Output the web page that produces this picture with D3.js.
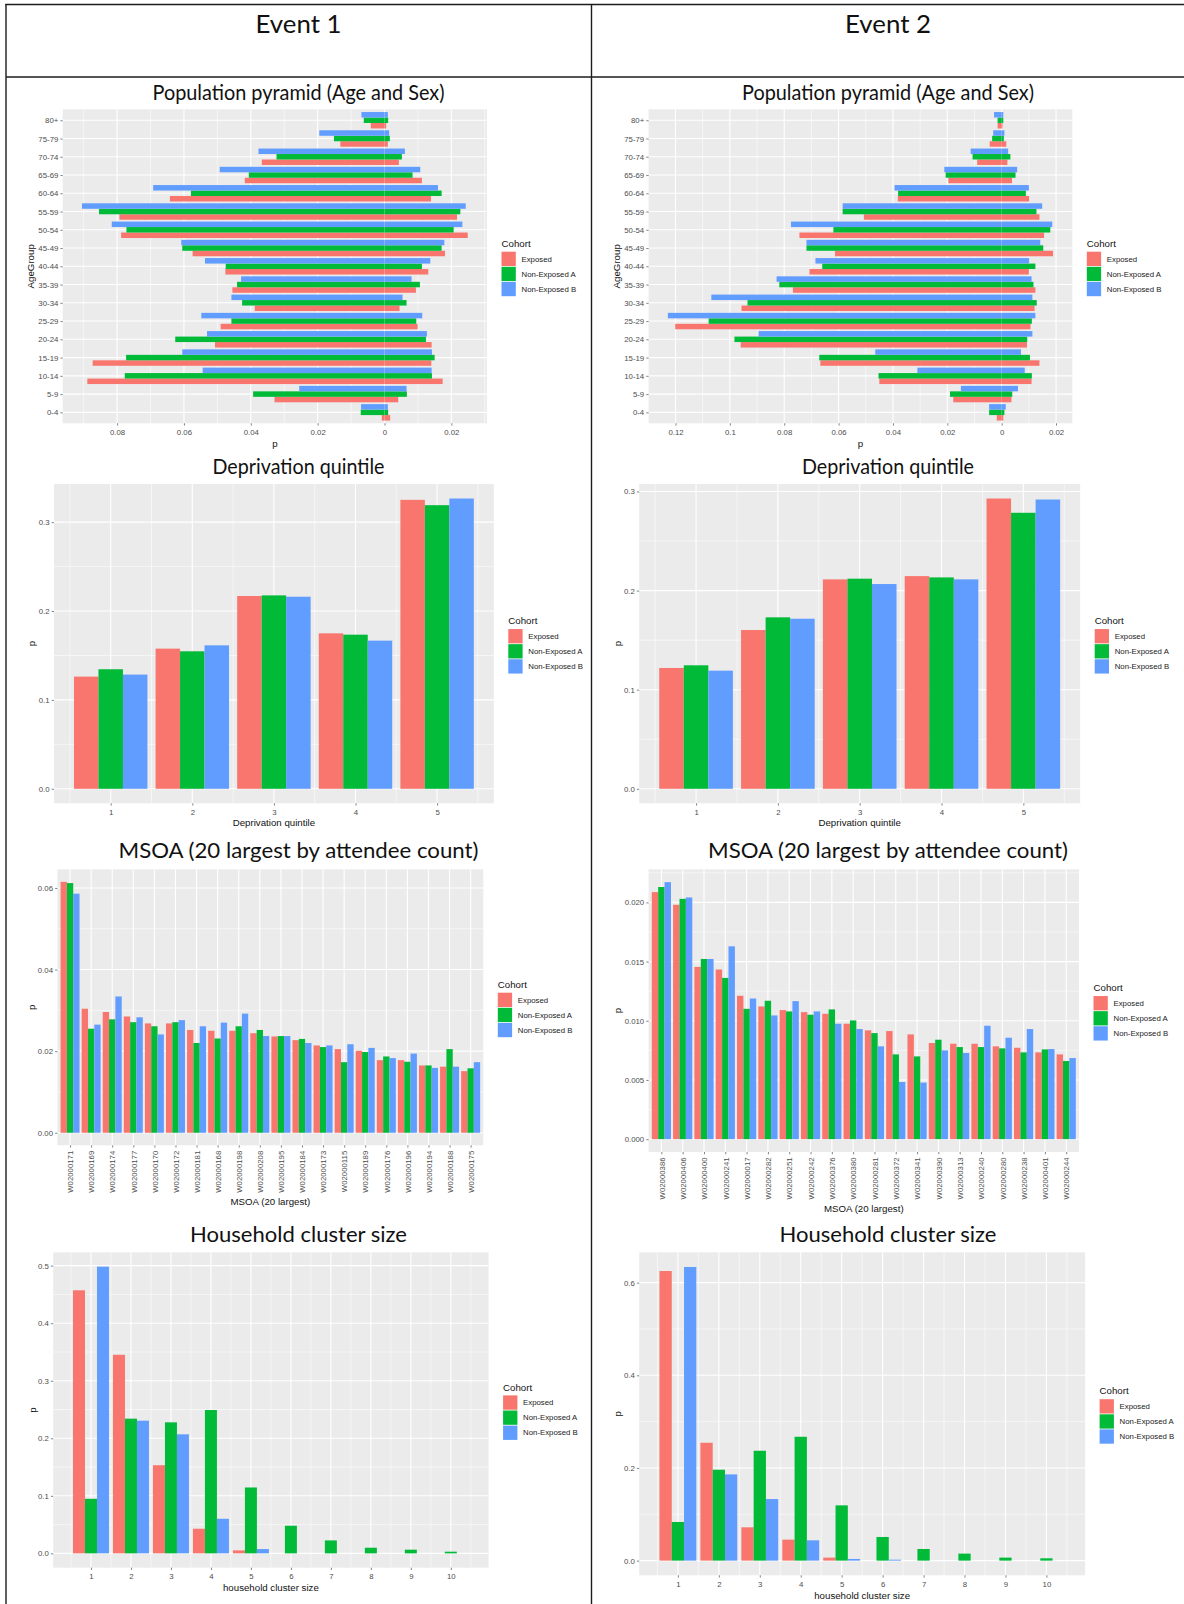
<!DOCTYPE html>
<html>
<head>
<meta charset="utf-8">
<script src="https://cdn.jsdelivr.net/npm/d3@7"></script>
<style>
  html, body { margin: 0; padding: 0; background: #fff; }
  svg { display: block; }
  .gg text { font-family: "Liberation Sans", Arial, sans-serif; }
  .doc text { font-family: Lato, "Open Sans", sans-serif; }
</style>
</head>
<body>
<script>
// ---------- data ----------
const cohorts = ["Exposed", "Non-Exposed A", "Non-Exposed B"];
const cohortColors = ["#F8766D", "#00BA38", "#619CFF"];
const events = ["Event 1", "Event 2"];

const ageGroups = ["0-4", "5-9", "10-14", "15-19", "20-24", "25-29", "30-34", "35-39", "40-44",
  "45-49", "50-54", "55-59", "60-64", "65-69", "70-74", "75-79", "80+"];

// Event 1 population pyramid: share on the left (negative) side and on the right side
const e1PyrLeftExposed = [0.0008, 0.0329, 0.0889, 0.0873, 0.0507, 0.049, 0.0388, 0.0455, 0.0476, 0.0574, 0.0788, 0.0793, 0.0642, 0.0418, 0.0367, 0.0132, 0.0041];
const e1PyrRightExposed = [0.0017, 0.0041, 0.0174, 0.014, 0.0141, 0.0099, 0.0045, 0.0094, 0.0131, 0.0181, 0.0249, 0.0217, 0.0139, 0.0112, 0.0043, 0.001, 0.0005];
const e1PyrLeftNonA = [0.0071, 0.0393, 0.0777, 0.0773, 0.0626, 0.0458, 0.0426, 0.0441, 0.0475, 0.0605, 0.0772, 0.0854, 0.0579, 0.0406, 0.0323, 0.0151, 0.0062];
const e1PyrRightNonA = [0.0011, 0.0067, 0.0142, 0.015, 0.0124, 0.0095, 0.0066, 0.0106, 0.0112, 0.0171, 0.0207, 0.0227, 0.0171, 0.0084, 0.0052, 0.0016, 0.0011];
const e1PyrLeftNonB = [0.007, 0.0255, 0.0544, 0.0605, 0.0531, 0.0548, 0.0458, 0.0429, 0.0537, 0.0608, 0.0816, 0.0905, 0.0692, 0.0493, 0.0377, 0.0195, 0.0069];
const e1PyrRightNonB = [0.001, 0.0066, 0.0141, 0.0142, 0.0127, 0.0113, 0.0054, 0.0081, 0.0137, 0.0179, 0.0233, 0.0243, 0.016, 0.0107, 0.0061, 0.0014, 0.001];
const e1PyrTicks = [-0.08, -0.06, -0.04, -0.02, 0, 0.02];

// Event 2 population pyramid
const e2PyrLeftExposed = [0.0018, 0.0178, 0.045, 0.0667, 0.096, 0.1201, 0.0957, 0.0768, 0.0707, 0.0613, 0.0744, 0.0507, 0.0382, 0.0196, 0.009, 0.0044, 0.0015];
const e2PyrRightExposed = [0.0006, 0.0036, 0.011, 0.0139, 0.0093, 0.0106, 0.0121, 0.0124, 0.01, 0.0189, 0.0156, 0.0139, 0.0101, 0.0038, 0.0021, 0.0017, 0.0003];
const e2PyrLeftNonA = [0.0046, 0.019, 0.0453, 0.0671, 0.0983, 0.1078, 0.0935, 0.0818, 0.066, 0.0718, 0.0619, 0.0585, 0.0381, 0.0206, 0.0107, 0.0035, 0.0015];
const e2PyrRightNonA = [0.001, 0.0039, 0.0111, 0.0104, 0.0094, 0.0111, 0.0129, 0.0117, 0.0124, 0.0153, 0.0179, 0.0128, 0.0089, 0.0051, 0.0032, 0.0008, 0.0006];
const e2PyrLeftNonB = [0.0046, 0.015, 0.031, 0.0465, 0.0894, 0.1228, 0.1068, 0.0828, 0.0685, 0.0718, 0.0775, 0.0585, 0.0394, 0.0211, 0.0114, 0.0031, 0.0028];
const e2PyrRightNonB = [0.0015, 0.006, 0.0085, 0.0071, 0.0113, 0.0124, 0.0113, 0.011, 0.0101, 0.0142, 0.0186, 0.0149, 0.01, 0.0057, 0.0024, 0.001, 0.0006];
const e2PyrTicks = [-0.12, -0.1, -0.08, -0.06, -0.04, -0.02, 0, 0.02];

// Deprivation quintile
const quintiles = ["1", "2", "3", "4", "5"];
const e1DepExposed = [0.1262, 0.1577, 0.2169, 0.1749, 0.3251];
const e1DepNonA = [0.1345, 0.1547, 0.2176, 0.1734, 0.3191];
const e1DepNonB = [0.1285, 0.1614, 0.2161, 0.1667, 0.3266];
const e2DepExposed = [0.1219, 0.1602, 0.2113, 0.2146, 0.2929];
const e2DepNonA = [0.1246, 0.173, 0.212, 0.2133, 0.2785];
const e2DepNonB = [0.1192, 0.1716, 0.2066, 0.2113, 0.2919];
const depTicks = [0, 0.1, 0.2, 0.3];

// MSOA, 20 largest by attendee count
const e1Msoa = ["W02000171", "W02000169", "W02000174", "W02000177", "W02000170", "W02000172", "W02000181",
  "W02000168", "W02000198", "W02000208", "W02000195", "W02000184", "W02000173", "W02000115", "W02000189",
  "W02000176", "W02000196", "W02000194", "W02000188", "W02000175"];
const e1MsoaExposed = [0.0615, 0.0304, 0.0296, 0.0285, 0.0268, 0.0268, 0.0252, 0.025, 0.025, 0.0244, 0.0236, 0.0227, 0.0214, 0.0205, 0.0201, 0.0178, 0.0178, 0.0165, 0.0162, 0.0151];
const e1MsoaNonA = [0.0612, 0.0255, 0.0278, 0.0271, 0.0261, 0.0271, 0.022, 0.0231, 0.0261, 0.0252, 0.0237, 0.023, 0.021, 0.0173, 0.0198, 0.0187, 0.0174, 0.0165, 0.0205, 0.0158];
const e1MsoaNonB = [0.0586, 0.0265, 0.0334, 0.0283, 0.0241, 0.0276, 0.0261, 0.027, 0.0292, 0.0237, 0.0237, 0.022, 0.0214, 0.0217, 0.0208, 0.0183, 0.0194, 0.0159, 0.0162, 0.0173];
const e1MsoaTicks = [0, 0.02, 0.04, 0.06];

const e2Msoa = ["W02000386", "W02000406", "W02000400", "W02000241", "W02000017", "W02000282", "W02000251",
  "W02000242", "W02000376", "W02000380", "W02000281", "W02000372", "W02000341", "W02000390", "W02000313",
  "W02000240", "W02000280", "W02000238", "W02000401", "W02000244"];
const e2MsoaExposed = [0.02087, 0.0198, 0.01455, 0.01433, 0.01211, 0.01121, 0.0109, 0.01073, 0.01059, 0.00975, 0.00919, 0.00913, 0.00885, 0.00812, 0.00806, 0.00806, 0.00784, 0.00772, 0.00733, 0.00716];
const e2MsoaNonA = [0.0213, 0.0203, 0.01522, 0.01362, 0.01101, 0.01169, 0.01079, 0.01051, 0.01096, 0.01003, 0.00896, 0.00716, 0.00699, 0.0084, 0.00778, 0.00778, 0.00767, 0.00733, 0.00758, 0.0066];
const e2MsoaNonB = [0.02171, 0.02042, 0.01522, 0.01629, 0.01188, 0.01045, 0.01166, 0.01079, 0.00975, 0.0093, 0.00784, 0.00483, 0.00478, 0.0075, 0.00728, 0.00958, 0.00857, 0.0093, 0.00761, 0.00685];
const e2MsoaTicks = [0, 0.005, 0.01, 0.015, 0.02];

// Household cluster size
const clusterSizes = ["1", "2", "3", "4", "5", "6", "7", "8", "9", "10"];
const e1HhExposed = [0.4572, 0.3451, 0.1532, 0.0428, 0.0052, 0, 0, 0, 0, 0];
const e1HhNonA = [0.0948, 0.2341, 0.2277, 0.2491, 0.1145, 0.048, 0.0225, 0.0098, 0.0064, 0.0029];
const e1HhNonB = [0.4983, 0.2306, 0.2069, 0.0601, 0.0075, 0, 0, 0, 0, 0];
const e1HhTicks = [0, 0.1, 0.2, 0.3, 0.4, 0.5];
const e2HhExposed = [0.6251, 0.2544, 0.0719, 0.0453, 0.0065, 0, 0, 0, 0, 0];
const e2HhNonA = [0.0834, 0.1962, 0.2371, 0.2673, 0.1193, 0.051, 0.0251, 0.0151, 0.0065, 0.005];
const e2HhNonB = [0.6338, 0.1861, 0.1329, 0.0438, 0.0036, 0.002, 0, 0, 0, 0];
const e2HhTicks = [0, 0.2, 0.4, 0.6];

// ---------- drawing ----------
const W = 1184, H = 1604;
const svg = d3.select("body").append("svg").attr("width", W).attr("height", H);

const TICK_FS = 7.8, TITLE_FS = 9.7;
const TICK_COL = "#4D4D4D";

// table frame
const doc = svg.append("g").attr("class", "doc");
const frame = [
  [5.3, 4.5, W, 4.5],
  [6, 4, 6, H],
  [591.5, 4, 591.5, H],
  [6, 77, W, 77]
];
doc.selectAll("line.frame").data(frame).join("line")
  .attr("x1", d => d[0]).attr("y1", d => d[1]).attr("x2", d => d[2]).attr("y2", d => d[3])
  .attr("stroke", "#1c1c1c").attr("stroke-width", 1.4);

const colCenters = [298.5, 888];
doc.selectAll("text.event").data(events).join("text")
  .attr("x", (d, i) => colCenters[i]).attr("y", 32.5)
  .attr("text-anchor", "middle").attr("font-size", 25.5).attr("fill", "#111")
  .attr("textLength", 86).attr("lengthAdjust", "spacingAndGlyphs").text(d => d);

// section titles, each set to the width of the narrow document face
const chartTitles = ["Population pyramid (Age and Sex)", "Deprivation quintile",
  "MSOA (20 largest by attendee count)", "Household cluster size"];
const titleBaselines = [99.5, 473.5, 858, 1241.5];
const titleWidths = [292, 172, 360, 217];
chartTitles.forEach((t, r) => {
  colCenters.forEach(cx => {
    doc.append("text").attr("x", cx).attr("y", titleBaselines[r])
      .attr("text-anchor", "middle").attr("font-size", 22).attr("fill", "#111")
      .attr("textLength", titleWidths[r]).attr("lengthAdjust", "spacingAndGlyphs").text(t);
  });
});

function minorBetween(majors, lo, hi) {
  const step = majors[1] - majors[0];
  const ext = [majors[0] - step, ...majors, majors[majors.length - 1] + step];
  const out = [];
  for (let i = 0; i < ext.length - 1; i++) {
    const m = (ext[i] + ext[i + 1]) / 2;
    if (m > lo && m < hi) out.push(m);
  }
  return out;
}

function panelBg(g, p) {
  g.append("rect").attr("x", p.left).attr("y", p.top)
    .attr("width", p.right - p.left).attr("height", p.bottom - p.top).attr("fill", "#EBEBEB");
}
function vGrid(g, vals, x, p, w) {
  g.append("g").selectAll("line").data(vals).join("line")
    .attr("x1", d => x(d)).attr("x2", d => x(d)).attr("y1", p.top).attr("y2", p.bottom)
    .attr("stroke", "#fff").attr("stroke-width", w);
}
function hGrid(g, vals, y, p, w) {
  g.append("g").selectAll("line").data(vals).join("line")
    .attr("y1", d => y(d)).attr("y2", d => y(d)).attr("x1", p.left).attr("x2", p.right)
    .attr("stroke", "#fff").attr("stroke-width", w);
}
function styleAxis(a) {
  a.select(".domain").remove();
  a.selectAll(".tick line").attr("stroke", "#333").attr("stroke-width", 0.6);
  a.selectAll(".tick text").attr("fill", TICK_COL).attr("font-size", TICK_FS)
    .attr("font-family", '"Liberation Sans", Arial, sans-serif');
}
function legend(g, x, cy) {
  const lg = g.append("g").attr("transform", `translate(${x},${cy})`);
  lg.append("text").attr("x", 0).attr("y", -19.5).attr("font-size", TITLE_FS)
    .attr("fill", "#111").text("Cohort");
  lg.selectAll("rect").data(cohorts).join("rect")
    .attr("x", 0).attr("y", (d, i) => -14.6 + i * 15.1)
    .attr("width", 14.3).attr("height", 14.3)
    .attr("fill", (d, i) => cohortColors[i]);
  lg.selectAll("text.lab").data(cohorts).join("text").attr("class", "lab")
    .attr("x", 20).attr("y", (d, i) => -14.6 + i * 15.1 + 7.15).attr("dy", "0.35em")
    .attr("font-size", TICK_FS).attr("fill", "#1a1a1a").text(d => d);
}
function axisTitles(g, p, o) {
  g.append("text").attr("x", (p.left + p.right) / 2).attr("y", p.bottom + o.xTitleDy)
    .attr("text-anchor", "middle").attr("font-size", TITLE_FS).attr("fill", "#111").text(o.xTitle);
  g.append("text").attr("transform", `translate(${o.yTitleX},${(p.top + p.bottom) / 2}) rotate(-90)`)
    .attr("text-anchor", "middle").attr("font-size", TITLE_FS).attr("fill", "#111").text(o.yTitle);
}

// horizontal bars spreading to both sides of zero
function drawPyramid(o) {
  const g = svg.append("g").attr("class", "gg");
  const p = o.panel;
  const n = ageGroups.length;
  const lo = -d3.max(o.left.flat()), hi = d3.max(o.right.flat());
  const span = hi - lo;
  const x = d3.scaleLinear().domain([lo - 0.05 * span, hi + 0.05 * span]).range([p.left, p.right]);
  const y = d3.scaleLinear().domain([0.4, n + 0.6]).range([p.bottom, p.top]);
  const pos = d3.range(1, n + 1);

  panelBg(g, p);
  vGrid(g, minorBetween(o.xTicks, ...x.domain()), x, p, 0.55);
  vGrid(g, o.xTicks, x, p, 1.1);
  hGrid(g, pos, y, p, 1.1);

  const barH = y(0) - y(0.3);
  cohorts.forEach((c, k) => {
    const rows = pos.map((ps, i) => ({ c: ps + (k - 1) * 0.3, l: o.left[k][i], r: o.right[k][i] }));
    const bg = g.append("g").attr("fill", cohortColors[k]);
    bg.selectAll("rect.l").data(rows).join("rect").attr("class", "l")
      .attr("x", d => x(-d.l)).attr("width", d => x(0) - x(-d.l))
      .attr("y", d => y(d.c + 0.15)).attr("height", barH);
    bg.selectAll("rect.r").data(rows).join("rect").attr("class", "r")
      .attr("x", x(0)).attr("width", d => x(d.r) - x(0))
      .attr("y", d => y(d.c + 0.15)).attr("height", barH);
  });

  const ya = g.append("g").attr("transform", `translate(${p.left},0)`)
    .call(d3.axisLeft(y).tickValues(pos).tickFormat(i => ageGroups[i - 1]).tickSize(2.3).tickPadding(2.1));
  styleAxis(ya);
  const xa = g.append("g").attr("transform", `translate(0,${p.bottom})`)
    .call(d3.axisBottom(x).tickValues(o.xTicks).tickFormat(d => d3.format("~g")(Math.abs(d))).tickSize(2.3).tickPadding(3.8));
  styleAxis(xa);

  axisTitles(g, p, o);
  legend(g, p.right + 14.5, (p.top + p.bottom) / 2);
}

// dodged vertical bars
function drawColumns(o) {
  const g = svg.append("g").attr("class", "gg");
  const p = o.panel;
  const n = o.series[0].length;
  const pos = d3.range(1, n + 1);
  const all = o.series.flat();
  const yMax = d3.max(all), yMin = Math.min(0, d3.min(all)), ySpan = yMax - yMin;
  const y = d3.scaleLinear().domain([yMin - 0.05 * ySpan, yMax + 0.05 * ySpan]).range([p.bottom, p.top]);
  let xDom;
  if (o.continuous) {
    const lo = 1 - 0.45, hi = n + 0.45, s = hi - lo;
    xDom = [lo - 0.05 * s, hi + 0.05 * s];
  } else {
    xDom = [0.4, n + 0.6];
  }
  const x = d3.scaleLinear().domain(xDom).range([p.left, p.right]);

  panelBg(g, p);
  hGrid(g, minorBetween(o.yTicks, ...y.domain()), y, p, 0.55);
  if (o.continuous) vGrid(g, minorBetween(pos, ...x.domain()), x, p, 0.55);
  hGrid(g, o.yTicks, y, p, 1.1);
  vGrid(g, pos, x, p, 1.1);

  const bw = x(0.3) - x(0);
  o.series.forEach((vals, k) => {
    g.append("g").attr("fill", cohortColors[k]).selectAll("rect").data(vals).join("rect")
      .attr("x", (d, i) => x(i + 1 - 0.45 + 0.3 * k)).attr("width", bw)
      .attr("y", d => y(Math.max(0, d))).attr("height", d => Math.abs(y(0) - y(d)));
  });

  const ya = g.append("g").attr("transform", `translate(${p.left},0)`)
    .call(d3.axisLeft(y).tickValues(o.yTicks).tickFormat(d3.format(o.yFmt)).tickSize(2.3).tickPadding(2.1));
  styleAxis(ya);
  const xa = g.append("g").attr("transform", `translate(0,${p.bottom})`)
    .call(d3.axisBottom(x).tickValues(pos).tickFormat(i => o.xLabels[i - 1]).tickSize(2.3).tickPadding(3.8));
  styleAxis(xa);
  if (o.rotate) {
    xa.selectAll(".tick text").attr("transform", "rotate(-90)").attr("text-anchor", "end")
      .attr("x", -5.4).attr("y", 0).attr("dy", "0.35em");
  }

  axisTitles(g, p, o);
  legend(g, p.right + 14.5, (p.top + p.bottom) / 2);
}

// ---- row 1: population pyramids ----
drawPyramid({
  panel: { left: 62.7, right: 487, top: 109.3, bottom: 423.3 },
  left: [e1PyrLeftExposed, e1PyrLeftNonA, e1PyrLeftNonB],
  right: [e1PyrRightExposed, e1PyrRightNonA, e1PyrRightNonB],
  xTicks: e1PyrTicks, xTitle: "p", yTitle: "AgeGroup", xTitleDy: 23.5, yTitleX: 34
});
drawPyramid({
  panel: { left: 648.6, right: 1072.3, top: 109.3, bottom: 423.3 },
  left: [e2PyrLeftExposed, e2PyrLeftNonA, e2PyrLeftNonB],
  right: [e2PyrRightExposed, e2PyrRightNonA, e2PyrRightNonB],
  xTicks: e2PyrTicks, xTitle: "p", yTitle: "AgeGroup", xTitleDy: 23.5, yTitleX: 619.5
});

// ---- row 2: deprivation quintile ----
drawColumns({
  panel: { left: 54, right: 493.8, top: 484, bottom: 803.3 },
  series: [e1DepExposed, e1DepNonA, e1DepNonB], xLabels: quintiles, continuous: true,
  yTicks: depTicks, yFmt: ".1f", xTitle: "Deprivation quintile", yTitle: "p", xTitleDy: 23, yTitleX: 35
});
drawColumns({
  panel: { left: 639.2, right: 1080.2, top: 484, bottom: 803.3 },
  series: [e2DepExposed, e2DepNonA, e2DepNonB], xLabels: quintiles, continuous: true,
  yTicks: depTicks, yFmt: ".1f", xTitle: "Deprivation quintile", yTitle: "p", xTitleDy: 23, yTitleX: 620.5
});

// ---- row 3: MSOA ----
drawColumns({
  panel: { left: 57.4, right: 483.3, top: 869.3, bottom: 1145.3 },
  series: [e1MsoaExposed, e1MsoaNonA, e1MsoaNonB], xLabels: e1Msoa, continuous: false, rotate: true,
  yTicks: e1MsoaTicks, yFmt: ".2f", xTitle: "MSOA (20 largest)", yTitle: "p", xTitleDy: 59.5, yTitleX: 35
});
drawColumns({
  panel: { left: 648.6, right: 1079, top: 869.3, bottom: 1152 },
  series: [e2MsoaExposed, e2MsoaNonA, e2MsoaNonB], xLabels: e2Msoa, continuous: false, rotate: true,
  yTicks: e2MsoaTicks, yFmt: ".3f", xTitle: "MSOA (20 largest)", yTitle: "p", xTitleDy: 59.5, yTitleX: 620.5
});

// ---- row 4: household cluster size ----
drawColumns({
  panel: { left: 53.2, right: 488.6, top: 1252.3, bottom: 1567.7 },
  series: [e1HhExposed, e1HhNonA, e1HhNonB], xLabels: clusterSizes, continuous: true,
  yTicks: e1HhTicks, yFmt: ".1f", xTitle: "household cluster size", yTitle: "p", xTitleDy: 23.5, yTitleX: 35.5
});
drawColumns({
  panel: { left: 639.2, right: 1085.1, top: 1252.3, bottom: 1575.3 },
  series: [e2HhExposed, e2HhNonA, e2HhNonB], xLabels: clusterSizes, continuous: true,
  yTicks: e2HhTicks, yFmt: ".1f", xTitle: "household cluster size", yTitle: "p", xTitleDy: 23.5, yTitleX: 621
});
</script>
</body>
</html>
